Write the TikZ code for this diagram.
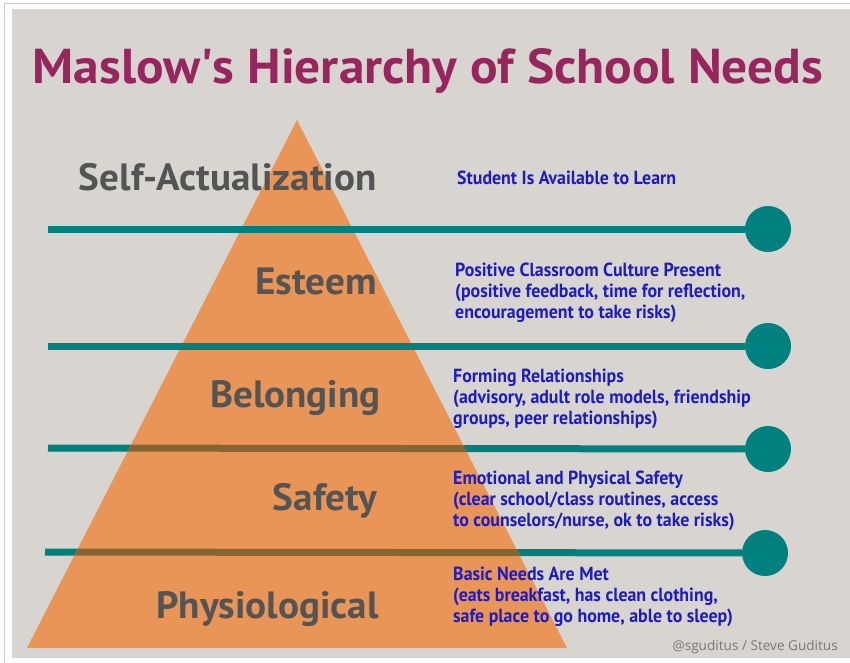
\documentclass[tikz,border=0pt]{standalone}
\usepackage{fontspec}
\setmainfont{PT Sans}
\newfontfamily\titlefont{PT Sans}[FakeStretch=1.05]
\newfontfamily\levelfont{PT Sans}[FakeStretch=1.03]
\newfontfamily\needfont{PT Sans}[FakeStretch=0.94]
\newfontfamily\creditfont{Open Sans}
\usetikzlibrary{positioning}

\definecolor{panel}{RGB}{216,213,208}
\definecolor{frame}{RGB}{200,200,200}
\definecolor{pyramid}{RGB}{234,149,88}
\definecolor{tealbar}{RGB}{0,128,126}
\definecolor{mudbar}{RGB}{132,102,52}
\definecolor{titlepink}{RGB}{152,38,94}
\definecolor{needblue}{RGB}{28,28,196}
\definecolor{levelgray}{RGB}{84,84,84}
\definecolor{creditgray}{RGB}{120,120,120}

\begin{document}
\begin{tikzpicture}[x=1pt,y=-1pt,
            level/.style={anchor=base east, inner sep=0pt, text=levelgray, font=\levelfont\bfseries\fontsize{38}{38}\selectfont},
            need/.style={anchor=north west, inner sep=0pt, align=left, text=needblue, font=\needfont\bfseries\fontsize{19}{21}\selectfont},
            bar/.style={line width=7pt, draw=tealbar},
            knob/.style={circle, fill=tealbar, minimum size=46pt, inner sep=0pt}
  ]

  % frame and panel
  \useasboundingbox (0,0) rectangle (850,662);
  \fill[white] (0,0) rectangle (850,662);
  \draw[frame, line width=1pt] (4,3) rectangle (852,664);
  \fill[panel] (12,9) rectangle (850,658);

  \node[anchor=base, inner sep=0pt, text=titlepink, font=\titlefont\bfseries\fontsize{49}{49}\selectfont] (title) at (428,83) {Maslow\textquotesingle s Hierarchy of School Needs};

  \coordinate (apex) at (297,120);
  \coordinate (baseL) at (27,648);
  \coordinate (baseR) at (567,648);

  \node[knob] (k1) at (768,229) {};
  \node[knob] (k2) at (768,346) {};
  \node[knob] (k3) at (768,449) {};
  \node[knob] (k4) at (765,553) {};
  \coordinate (l1) at (48,229);
  \coordinate (l2) at (48,346);
  \coordinate (l3) at (48,448);
  \coordinate (l4) at (45,552);

  % lower bars lie under the pyramid
  \draw[bar] (l3) -- (k3);
  \draw[bar] (l4) -- (k4);

  \fill[pyramid] (apex) -- (baseL) -- (baseR) -- cycle;

  \begin{scope}
    \clip (apex) -- (baseL) -- (baseR) -- cycle;
    \draw[bar, draw=mudbar] (l3) -- (k3);
    \draw[bar, draw=mudbar] (l4) -- (k4);
  \end{scope}

  % upper bars lie over it
  \draw[bar] (l1) -- (k1);
  \draw[bar] (l2) -- (k2);

  \node[level] (self) at (377,190) {Self-Actualization};
  \node[level] (esteem) at (377,294) {Esteem};
  \node[level] (belong) at (381,407) {Belonging};
  \node[level] (safety) at (377,510) {Safety};
  \node[level] (physio) at (379,618) {Physiological};

  \node[need] (learn) at (457,171) {Student Is Available to Learn};
  \node[need] (culture) at (455,263) {Positive Classroom Culture Present\\(positive feedback, time for reflection,\\encouragement to take risks)};
  \node[need] (relations) at (453,369) {Forming Relationships\\(advisory, adult role models, friendship\\groups, peer relationships)};
  \node[need] (safe) at (453,471) {Emotional and Physical Safety\\(clear school/class routines, access\\to counselors/nurse, ok to take risks)};
  \node[need] (basic) at (453,567) {Basic Needs Are Met\\(eats breakfast, has clean clothing,\\safe place to go home, able to sleep)};

  \node[anchor=base east, inner sep=0pt, text=creditgray, font=\creditfont\fontsize{13.6}{13.6}\selectfont] (credit) at (838,650) {@sguditus / Steve Guditus};

\end{tikzpicture}
\end{document}
